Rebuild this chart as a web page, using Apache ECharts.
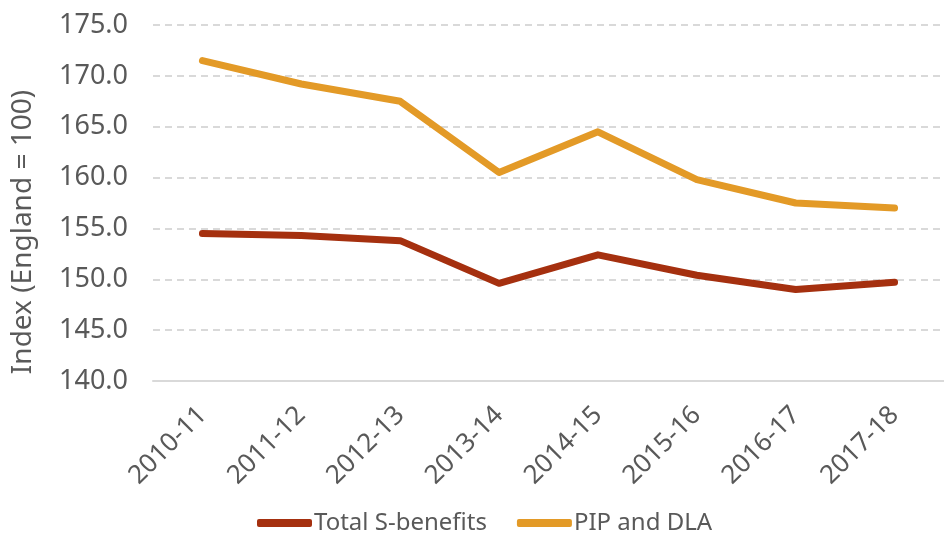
<html>
    <head>
        <meta charset="utf-8">
        <script src='https://cdn.jsdelivr.net/npm/echarts@6/dist/echarts.min.js'></script>
    </head>
    <body>
        <style>
            html, body, #main {
                width: 100%;
                height: 100%;
                margin: 0;
                background: #fff;
            }
        </style>
        <div id='main'></div>
        <script>
            var years = ['2010-11', '2011-12', '2012-13', '2013-14', '2014-15', '2015-16', '2016-17', '2017-18'];
            var totalS = [154.5, 154.3, 153.8, 149.6, 152.4, 150.4, 149.0, 149.7];
            var pipDla = [171.5, 169.2, 167.5, 160.5, 164.5, 159.8, 157.5, 157.0];

            var font = 'Noto Sans';
            var textColor = '#595959';
            var chart = echarts.init(document.getElementById('main'));
            var option = {
                animation: false,
                grid: { left: 153, top: 25, width: 802, height: 356 },
                legend: {
                    bottom: 7,
                    left: 252,
                    icon: 'roundRect',
                    itemWidth: 55,
                    itemHeight: 8,
                    itemGap: 30,
                    textStyle: { fontFamily: font, fontSize: 24, color: textColor, padding: [0, 0, 0, -3] },
                    data: ['Total S-benefits', 'PIP and DLA']
                },
                xAxis: {
                    type: 'category',
                    data: years,
                    boundaryGap: true,
                    axisLine: { lineStyle: { color: '#D9D9D9', width: 2 } },
                    axisTick: { show: false },
                    axisLabel: { rotate: 45, margin: 30, fontFamily: font, fontSize: 26, color: textColor, interval: 0 }
                },
                yAxis: {
                    type: 'value',
                    min: 140,
                    max: 175,
                    interval: 5,
                    name: 'Index (England = 100)',
                    nameLocation: 'middle',
                    nameGap: 116,
                    nameTextStyle: { fontFamily: font, fontSize: 28, color: textColor, padding: [0, 58, 0, 0] },
                    axisLine: { show: false },
                    axisTick: { show: false },
                    axisLabel: {
                        margin: 25,
                        fontFamily: font, fontSize: 27, color: textColor,
                        formatter: function (v) { return v.toFixed(1); }
                    },
                    splitLine: { lineStyle: { color: '#D9D9D9', width: 2, type: [7, 5] } }
                },
                series: [
                    {
                        name: 'Total S-benefits',
                        type: 'line',
                        data: totalS,
                        symbol: 'none',
                        itemStyle: { color: '#A5300F' },
                        lineStyle: { color: '#A5300F', width: 7, cap: 'round', join: 'round' }
                    },
                    {
                        name: 'PIP and DLA',
                        type: 'line',
                        data: pipDla,
                        symbol: 'none',
                        itemStyle: { color: '#E39A27' },
                        lineStyle: { color: '#E39A27', width: 7, cap: 'round', join: 'round' }
                    }
                ]
            };
            chart.setOption(option);
            window.onresize = chart.resize;
        </script>
    </body>
</html>
